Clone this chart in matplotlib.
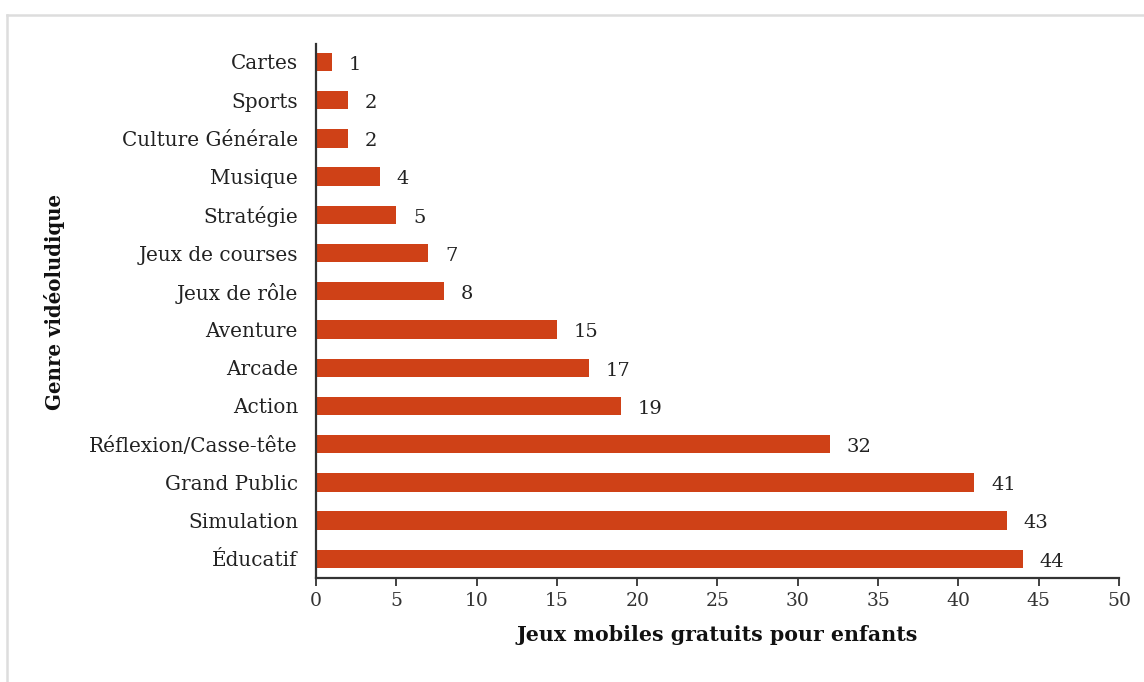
import matplotlib
matplotlib.use("Agg")
import matplotlib.pyplot as plt
from matplotlib.lines import Line2D

categories = ["Cartes", "Sports", "Culture Générale", "Musique", "Stratégie",
              "Jeux de courses", "Jeux de rôle", "Aventure", "Arcade", "Action",
              "Réflexion/Casse-tête", "Grand Public", "Simulation", "Éducatif"]
values = [1, 2, 2, 4, 5, 7, 8, 15, 17, 19, 32, 41, 43, 44]
xticks = [0, 5, 10, 15, 20, 25, 30, 35, 40, 45, 50]

plt.rcParams['font.family'] = ['DejaVu Serif']

fig = plt.figure(figsize=(11.44, 6.82), dpi=100)
ax = fig.add_axes([316/1144, 1-578/682, (1119-316)/1144, (578-44)/682])

y = list(range(len(categories)))
ax.barh(y, values, height=0.48, color='#CF4117', zorder=2)
for yi, v in zip(y, values):
    ax.annotate(str(v), (v, yi), xytext=(12, -2), textcoords='offset points',
                ha='left', va='center', fontsize=14, color='#222222')

ax.set_ylim(len(categories) - 0.5, -0.47)
ax.set_xlim(0, 50)
ax.set_xticks(xticks)
ax.set_xticklabels([str(t) for t in xticks], fontsize=13.5, color='#333333')
ax.set_yticks(y)
ax.set_yticklabels(categories, fontsize=14.4, color='#222222')
ax.tick_params(axis='y', length=0, pad=13)
ax.tick_params(axis='x', length=6, width=1.3, direction='out', color='#333333', pad=4)
for s in ['top', 'right']:
    ax.spines[s].set_visible(False)
for s in ['left', 'bottom']:
    ax.spines[s].set_linewidth(1.6)
    ax.spines[s].set_color('#333333')

ax.set_xlabel("Jeux mobiles gratuits pour enfants", fontsize=14.8, fontweight='bold',
              color='#111111', labelpad=11)
ax.set_ylabel("Genre vidéoludique", fontsize=14.2, fontweight='bold',
              color='#111111')
ax.yaxis.set_label_coords(-0.3125, 0.517)

# light frame around the figure
fig.add_artist(Line2D([6.5/1144, 1], [1-14.5/682]*2, transform=fig.transFigure,
                      color='#dddddd', lw=1.8))
fig.add_artist(Line2D([6.5/1144]*2, [0, 1-14.5/682], transform=fig.transFigure,
                      color='#dddddd', lw=1.8))

fig.savefig("out.png", dpi=100)
